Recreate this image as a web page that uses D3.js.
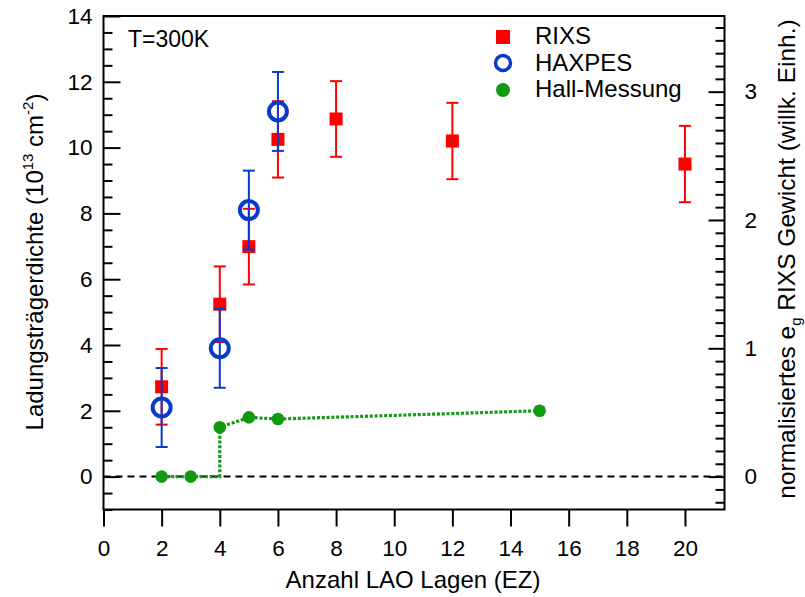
<!DOCTYPE html>
<html>
<head>
<meta charset="utf-8">
<script src="https://cdn.jsdelivr.net/npm/d3@7"></script>
<style>
  body { margin: 0; background: #fff; }
  svg { display: block; }
  text { font-family: Arial, "Liberation Sans", sans-serif; fill: #000; }
</style>
</head>
<body>
<svg id="chart" width="805" height="597"></svg>
<script>
// RIXS carrier density vs. number of LAO unit cells
const rixsLayers  = [2, 4, 5, 6, 8, 12, 20];
const rixsDensity = [2.73, 5.24, 6.99, 10.25, 10.87, 10.2, 9.5];
const rixsError   = [1.15, 1.15, 1.15, 1.16, 1.15, 1.16, 1.16];

// HAXPES carrier density
const haxpesLayers  = [2, 4, 5, 6];
const haxpesDensity = [2.1, 3.9, 8.1, 11.1];
const haxpesError   = [1.2, 1.2, 1.2, 1.2];

// Hall measurement
const hallLayers  = [2, 3, 4, 5, 6, 15];
const hallDensity = [0, 0, 1.5, 1.8, 1.75, 2.0];
// connecting path with the step at the insulator/metal transition
const hallPathLayers  = [2, 3, 4, 4, 5, 6, 15];
const hallPathDensity = [0, 0, 0, 1.5, 1.8, 1.75, 2.0];

// tick labels
const xTickLabels     = [0, 2, 4, 6, 8, 10, 12, 14, 16, 18, 20];
const leftTickLabels  = [0, 2, 4, 6, 8, 10, 12, 14];
const rightTickLabels = [0, 1, 2, 3];

const RED = "#ff0000", BLUE = "#0a3acc", GREEN = "#0f9a12";

const svg = d3.select("#chart");
const L = 103.5, R = 724.5, T = 16, B = 509.5;

const x  = d3.scaleLinear().domain([0, 21.36]).range([L, R]);
const y  = d3.scaleLinear().domain([-1, 14]).range([B, T]);
const yR = d3.scaleLinear().domain([-1 / 3.9, 14 / 3.9]).range([B, T]);

// ---- axes ----
const styleAxis = g => {
  g.select(".domain").remove();
  g.selectAll("line").attr("stroke", "#000").attr("stroke-width", 2);
  g.selectAll("text").style("font-size", "22.5px")
    .style("font-family", "Arial, 'Liberation Sans', sans-serif");
};

// left: minor ticks every 0.5, major every 2 (inward)
const leftMinor = d3.range(-1, 14.01, 0.5).filter(v => !leftTickLabels.includes(v));
svg.append("g").attr("transform", `translate(${L},0)`)
  .call(d3.axisLeft(y).tickValues(leftMinor).tickSize(-9).tickFormat(""))
  .call(styleAxis);
svg.append("g").attr("transform", `translate(${L},0)`)
  .call(d3.axisLeft(y).tickValues(leftTickLabels).tickSize(-17).tickPadding(11).tickFormat(d3.format("d")))
  .call(styleAxis);

// right: minor every 0.1, major every 1 (inward)
const rightMinor = d3.range(-2, 36).map(v => v / 10).filter(v => !rightTickLabels.includes(v));
svg.append("g").attr("transform", `translate(${R},0)`)
  .call(d3.axisRight(yR).tickValues(rightMinor).tickSize(-9).tickFormat(""))
  .call(styleAxis);
svg.append("g").attr("transform", `translate(${R},0)`)
  .call(d3.axisRight(yR).tickValues(rightTickLabels).tickSize(-16).tickPadding(20).tickFormat(d3.format("d")))
  .call(styleAxis);

// bottom: major ticks outward
svg.append("g").attr("transform", `translate(0,${B})`)
  .call(d3.axisBottom(x).tickValues(xTickLabels).tickSize(17).tickPadding(14).tickFormat(d3.format("d")))
  .call(styleAxis);

// frame
svg.append("rect")
  .attr("x", L).attr("y", T).attr("width", R - L).attr("height", B - T)
  .attr("fill", "none").attr("stroke", "#000").attr("stroke-width", 2);

// zero reference line
svg.append("line")
  .attr("x1", x(0)).attr("x2", x(21.36)).attr("y1", y(0)).attr("y2", y(0))
  .attr("stroke", "#000").attr("stroke-width", 2).attr("stroke-dasharray", "7,5");

// ---- Hall measurement ----
const hallPath = hallPathLayers.map((v, i) => [v, hallPathDensity[i]]);
svg.append("path")
  .attr("d", d3.line().x(d => x(d[0])).y(d => y(d[1]))(hallPath))
  .attr("fill", "none").attr("stroke", GREEN).attr("stroke-width", 3.2)
  .attr("stroke-dasharray", "3,1.8");
svg.append("g").selectAll("circle")
  .data(hallLayers.map((v, i) => [v, hallDensity[i]]))
  .join("circle")
  .attr("cx", d => x(d[0])).attr("cy", d => y(d[1])).attr("r", 6.3)
  .attr("fill", GREEN);

// error bar helper
function errorBars(layers, values, errors, color) {
  const g = svg.append("g").attr("stroke", color).attr("stroke-width", 2);
  layers.forEach((v, i) => {
    const cx = x(v), top = y(values[i] + errors[i]), bot = y(values[i] - errors[i]);
    g.append("line").attr("x1", cx).attr("x2", cx).attr("y1", top).attr("y2", bot);
    g.append("line").attr("x1", cx - 6).attr("x2", cx + 6).attr("y1", top).attr("y2", top);
    g.append("line").attr("x1", cx - 6).attr("x2", cx + 6).attr("y1", bot).attr("y2", bot);
  });
}

// ---- RIXS ----
errorBars(rixsLayers, rixsDensity, rixsError, RED);
svg.append("g").selectAll("rect")
  .data(rixsLayers.map((v, i) => [v, rixsDensity[i]]))
  .join("rect")
  .attr("x", d => x(d[0]) - 6.5).attr("y", d => y(d[1]) - 6.5)
  .attr("width", 13).attr("height", 13).attr("fill", RED);

// ---- HAXPES ----
errorBars(haxpesLayers, haxpesDensity, haxpesError, BLUE);
svg.append("g").selectAll("circle")
  .data(haxpesLayers.map((v, i) => [v, haxpesDensity[i]]))
  .join("circle")
  .attr("cx", d => x(d[0])).attr("cy", d => y(d[1])).attr("r", 9)
  .attr("fill", "none").attr("stroke", BLUE).attr("stroke-width", 4);

// ---- annotations ----
svg.append("text").attr("x", 128).attr("y", 47).style("font-size", "23px").text("T=300K");

// legend
const legend = svg.append("g");
legend.append("rect").attr("x", 503 - 7).attr("y", 37 - 7).attr("width", 14).attr("height", 14).attr("fill", RED);
legend.append("circle").attr("cx", 503).attr("cy", 63).attr("r", 7.5)
  .attr("fill", "none").attr("stroke", BLUE).attr("stroke-width", 3.5);
legend.append("circle").attr("cx", 503).attr("cy", 90).attr("r", 7).attr("fill", GREEN);
const legendLabels = ["RIXS", "HAXPES", "Hall-Messung"];
legend.selectAll("text.lbl").data(legendLabels).join("text")
  .attr("class", "lbl")
  .attr("x", 535).attr("y", (d, i) => 44 + i * 26.5)
  .style("font-size", "24px").text(d => d);

// axis titles
svg.append("text")
  .attr("x", 413).attr("y", 588).attr("text-anchor", "middle")
  .style("font-size", "24px").text("Anzahl LAO Lagen (EZ)");

const yTitle = svg.append("text")
  .attr("transform", "translate(43,262) rotate(-90)")
  .attr("text-anchor", "middle").style("font-size", "24px");
yTitle.append("tspan").text("Ladungsträgerdichte (10");
yTitle.append("tspan").attr("dy", -10).style("font-size", "15px").text("13");
yTitle.append("tspan").attr("dy", 10).text(" cm");
yTitle.append("tspan").attr("dy", -10).style("font-size", "15px").text("-2");
yTitle.append("tspan").attr("dy", 10).text(")");

const rTitle = svg.append("text")
  .attr("transform", "translate(795,259) rotate(-90)")
  .attr("text-anchor", "middle").style("font-size", "24.5px");
rTitle.append("tspan").text("normalisiertes e");
rTitle.append("tspan").attr("dy", 6).style("font-size", "15px").text("g");
rTitle.append("tspan").attr("dy", -6).text(" RIXS Gewicht (willk. Einh.)");
</script>
</body>
</html>
